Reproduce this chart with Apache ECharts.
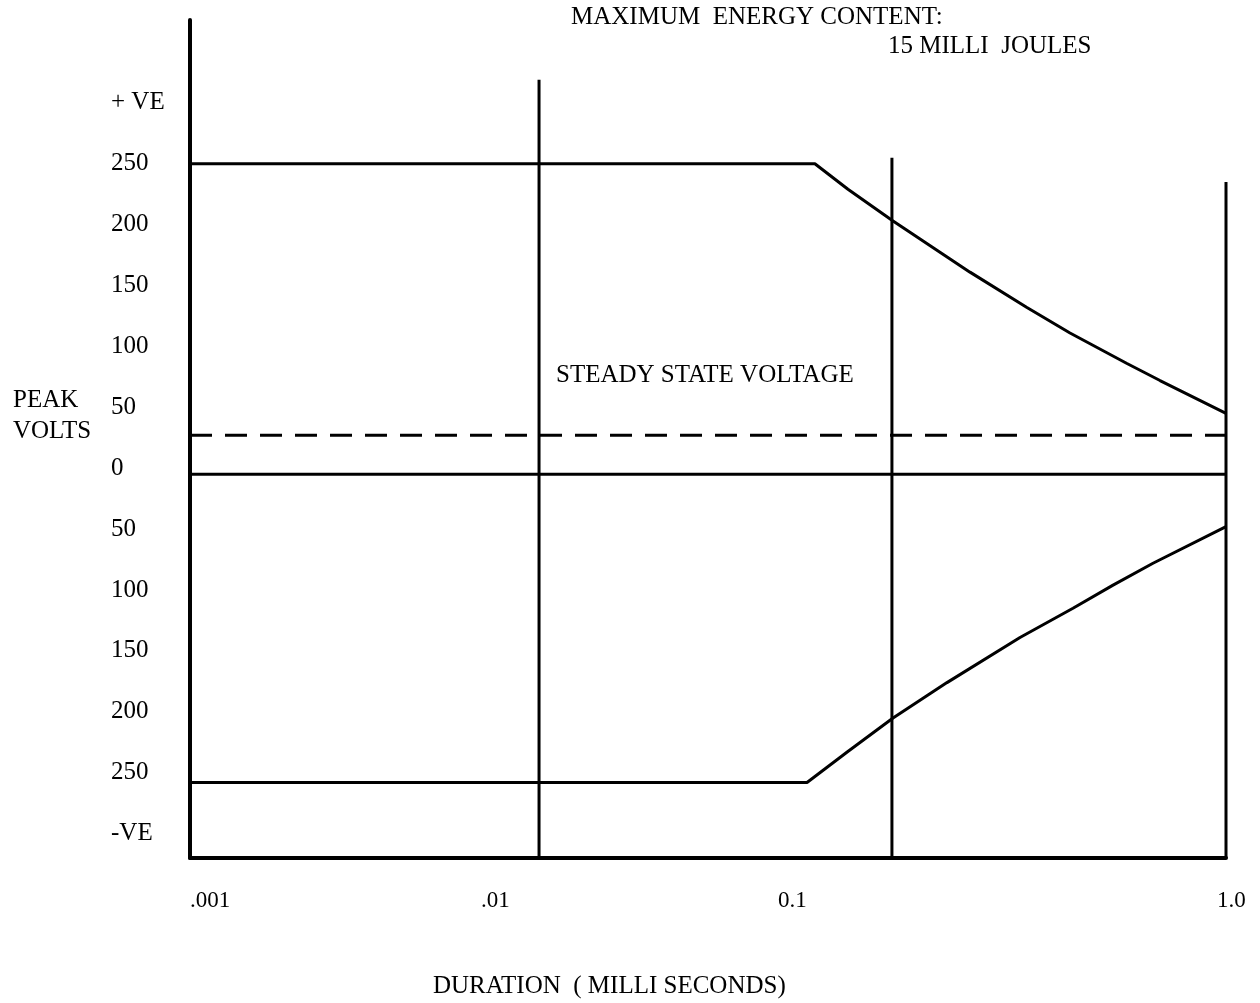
<!DOCTYPE html>
<html>
<head>
<meta charset="utf-8">
<title>Peak volts vs duration</title>
<script src="https://cdn.jsdelivr.net/npm/echarts@6/dist/echarts.min.js"></script>
<style>
  html, body { margin: 0; padding: 0; background: #fff; }
  #main { width: 1260px; height: 1003px; }
</style>
</head>
<body>
<div id="main"></div>
<script>
// 时间 (ms)，对数轴
let xTickValues = [0.001, 0.00696, 0.0504, 0.942];
let xTickLabels = ['.001', '.01', '0.1', '1.0'];
// 电压刻度
let yTickValues = [300, 250, 200, 150, 100, 50, 0, -50, -100, -150, -200, -250, -300];
let yTickLabels = ['+ VE', '250', '200', '150', '100', '50', '0', '50', '100', '150', '200', '250', '-VE'];

// 正向包络
let upperX = [0.001, 0.0645, 0.0804, 0.1086, 0.1814, 0.2652, 0.3534, 0.5167, 0.644, 1];
let upperY = [250, 250, 229, 203, 161, 132, 111, 86, 72, 45];
// 负向包络
let lowerX = [0.001, 0.0612, 0.08, 0.1086, 0.1556, 0.2532, 0.3605, 0.4709, 0.6146, 1];
let lowerY = [-258, -258, -233, -205, -176, -139, -115, -96, -78, -48];

let zeroLevel = -5;
let steadyLevel = 27;
// 竖线: x 位置和上端
let vlineX = [0.01025, 0.1078, 1];
let vlineTop = [319, 255, 235];

let font = '"Liberation Serif", "DejaVu Serif", serif';

function pairs(xs, ys) {
  return xs.map(function (v, i) { return [v, ys[i]]; });
}

let series = [
  { name: 'upper', data: pairs(upperX, upperY) },
  { name: 'lower', data: pairs(lowerX, lowerY) },
  { name: 'zero', data: [[0.001, zeroLevel], [1, zeroLevel]] },
  { name: 'steady', data: [[0.001, steadyLevel], [1, steadyLevel]], dash: [22, 13] }
];
vlineX.forEach(function (v, i) {
  series.push({ name: 'v' + i, data: [[v, -320], [v, vlineTop[i]]] });
});

var myChart = echarts.init(document.getElementById('main'));
myChart.setOption({
  animation: false,
  backgroundColor: '#fff',
  grid: { left: 190, right: 34, top: 20, bottom: 145 },
  xAxis: {
    type: 'log',
    logBase: 10,
    min: 0.001,
    max: 1,
    axisLine: { show: true, onZero: false, lineStyle: { color: '#000', width: 4 } },
    axisTick: { show: false },
    splitLine: { show: false },
    axisLabel: {
      customValues: xTickValues,
      formatter: function (v) {
        let i = xTickValues.findIndex(function (t) { return Math.abs(t - v) < 1e-6; });
        return i >= 0 ? xTickLabels[i] : '';
      },
      align: 'left',
      margin: 31,
      color: '#000',
      fontFamily: font,
      fontSize: 23
    }
  },
  yAxis: {
    type: 'value',
    min: -320,
    max: 368,
    axisLine: { show: true, lineStyle: { color: '#000', width: 4 } },
    axisTick: { show: false },
    splitLine: { show: false },
    axisLabel: {
      customValues: yTickValues,
      formatter: function (v) {
        let i = yTickValues.indexOf(v);
        return i >= 0 ? yTickLabels[i] : '';
      },
      align: 'left',
      margin: 79,
      color: '#000',
      fontFamily: font,
      fontSize: 25
    }
  },
  graphic: [
    { type: 'text', left: 571, top: 5, style: { text: 'MAXIMUM  ENERGY CONTENT:', font: '25px ' + font, fill: '#000' } },
    { type: 'text', left: 888, top: 34, style: { text: '15 MILLI  JOULES', font: '25px ' + font, fill: '#000' } },
    { type: 'text', left: 556, top: 363, style: { text: 'STEADY STATE VOLTAGE', font: '25px ' + font, fill: '#000' } },
    { type: 'text', left: 13, top: 385, style: { text: 'PEAK\nVOLTS', font: '25px ' + font, fill: '#000', lineHeight: 31 } },
    { type: 'text', left: 433, top: 974, style: { text: 'DURATION  ( MILLI SECONDS)', font: '25px ' + font, fill: '#000' } }
  ],
  series: series.map(function (s) {
    return {
      name: s.name,
      type: 'line',
      data: s.data,
      showSymbol: false,
      silent: true,
      lineStyle: { color: '#000', width: 3, type: s.dash || 'solid' }
    };
  })
});
</script>
</body>
</html>
